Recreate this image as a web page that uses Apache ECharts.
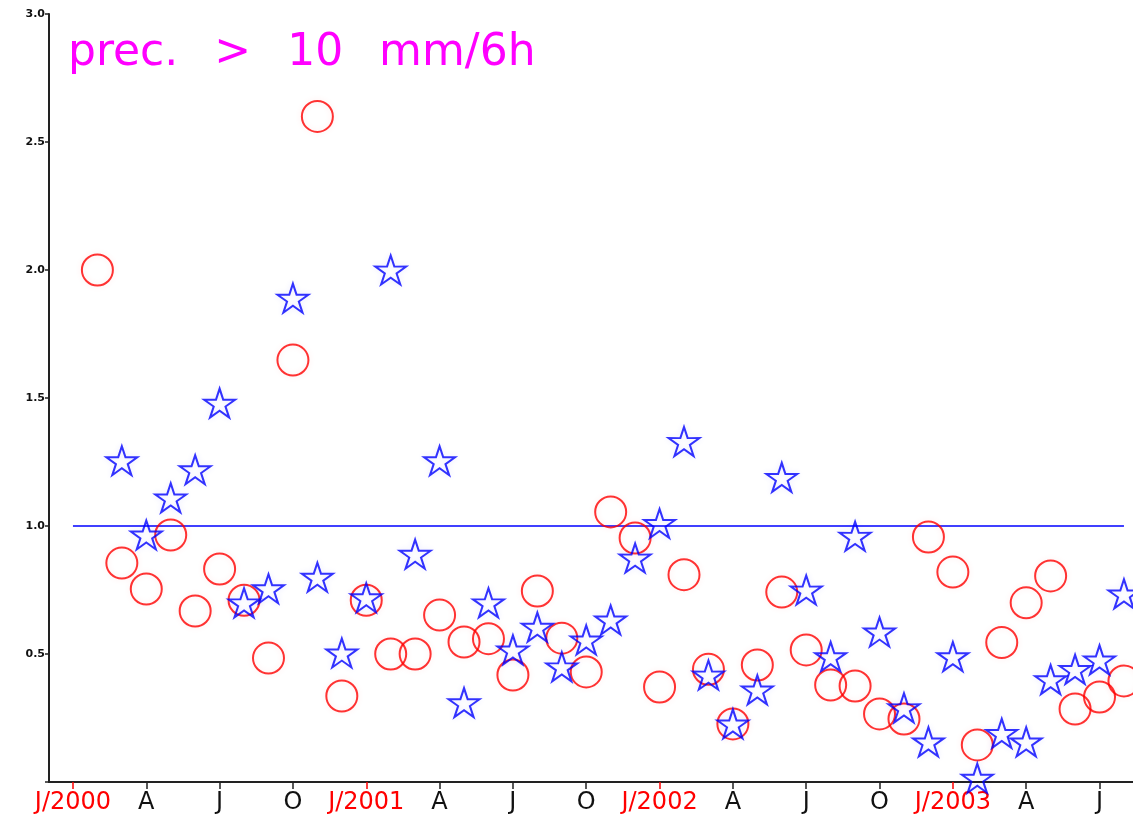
<!DOCTYPE html>
<html>
<head>
<meta charset="utf-8">
<script src="https://cdn.jsdelivr.net/npm/echarts@6/dist/echarts.min.js"></script>
<style>
html,body{margin:0;padding:0;background:#fff;}
#chart{width:1133px;height:822px;}
</style>
</head>
<body>
<div id="chart"></div>
<script>
// month index: 0 = Jan 2000
const titleText = 'prec. \u2002> \u200210 \u2002mm/6h';
const circleValues = [null, 2.0, 0.855, 0.754, 0.965, 0.668, 0.832, 0.71, 0.484, 1.648, 2.60,
  0.336, 0.71, 0.50, 0.50, 0.652, 0.547, 0.56, 0.418, 0.746, 0.562,
  0.43, 1.055, 0.953, 0.371, 0.81, 0.44, 0.227, 0.457, 0.742, 0.516,
  0.379, 0.375, 0.266, 0.246, 0.957, 0.82, 0.145, 0.545, 0.70, 0.805,
  0.285, 0.332, 0.395];
const starValues = [null, null, 1.255, 0.965, 1.11, 1.22, 1.48, 0.70, 0.755, 1.89, 0.80,
  0.504, 0.72, 2.0, 0.89, 1.255, 0.31, 0.70, 0.516, 0.605, 0.45,
  0.555, 0.633, 0.875, 1.01, 1.33, 0.418, 0.227, 0.36, 1.19, 0.75,
  0.49, 0.96, 0.586, 0.29, 0.157, 0.49, 0.015, 0.19, 0.157, 0.40,
  0.44, 0.477, 0.735];
const refLineX = [0, 43];
const refValue = 1.0;
const yearTicks = [0, 12, 24, 36];
const yearLabels = ['J/2000', 'J/2001', 'J/2002', 'J/2003'];
const monthTicks = [3, 6, 9, 15, 18, 21, 27, 30, 33, 39, 42];
const monthLabels = ['A', 'J', 'O', 'A', 'J', 'O', 'A', 'J', 'O', 'A', 'J'];

const starPath = 'path://M50 0 L61.17 34.63 L97.55 34.55 L68.07 55.87 L79.39 90.45 L50 69 L20.61 90.45 L31.93 55.87 L2.45 34.55 L38.83 34.63 Z';

const toPts = arr => arr.map((v, i) => v == null ? null : [i, v]).filter(p => p);

const xMin = -0.98, xMax = 43.37;

const chart = echarts.init(document.getElementById('chart'));
chart.setOption({
  animation: false,
  backgroundColor: '#fff',
  title: {
    text: titleText,
    left: 63, top: 27,
    textStyle: { color: '#ff00ff', fontSize: 44, fontWeight: 'normal', fontFamily: 'DejaVu Sans' }
  },
  grid: { left: 49, right: 0, top: 14, bottom: 40, containLabel: false },
  xAxis: [{
    type: 'value', min: xMin, max: xMax,
    axisLine: { show: true, onZero: false, lineStyle: { color: '#222', width: 2 } },
    splitLine: { show: false },
    axisTick: { show: true, customValues: monthTicks, length: 7, lineStyle: { color: '#222', width: 1.5 } },
    axisLabel: {
      customValues: monthTicks, margin: 9,
      color: '#111', fontSize: 24, fontFamily: 'DejaVu Sans',
      formatter: v => monthLabels[monthTicks.indexOf(v)]
    }
  }, {
    type: 'value', min: xMin, max: xMax, position: 'bottom',
    axisLine: { show: false, onZero: false },
    splitLine: { show: false },
    axisTick: { show: true, customValues: yearTicks, length: 7, lineStyle: { color: '#ff0000', width: 1.5 } },
    axisLabel: {
      customValues: yearTicks, margin: 9,
      color: '#ff0000', fontSize: 24, fontFamily: 'DejaVu Sans',
      formatter: v => yearLabels[yearTicks.indexOf(v)]
    }
  }],
  yAxis: {
    type: 'value', min: 0, max: 3, interval: 0.5, position: 'left',
    axisLine: { show: true, onZero: false, lineStyle: { color: '#222', width: 2 } },
    splitLine: { show: false },
    axisTick: { show: true, inside: false, length: 4, lineStyle: { color: '#222', width: 1.5 } },
    axisLabel: {
      margin: 4, color: '#111', fontSize: 11, fontWeight: 'bold', fontFamily: 'DejaVu Sans',
      formatter: v => v === 0 ? '' : v.toFixed(1)
    }
  },
  series: [{
    type: 'line',
    data: refLineX.map(x => [x, refValue]),
    symbol: 'none',
    lineStyle: { color: '#0000ff', width: 1.5 },
    z: 1
  }, {
    type: 'scatter',
    data: toPts(circleValues),
    symbol: 'circle', symbolSize: 31,
    clip: false,
    itemStyle: { color: 'rgba(0,0,0,0)', borderColor: '#ff0000', borderWidth: 2,
      shadowBlur: 6, shadowColor: 'rgba(255,0,0,0.12)' },
    z: 2
  }, {
    type: 'scatter',
    data: toPts(starValues),
    symbol: starPath, symbolSize: [31, 29],
    clip: false,
    itemStyle: { color: 'rgba(0,0,0,0)', borderColor: '#0000ff', borderWidth: 2,
      shadowBlur: 6, shadowColor: 'rgba(0,0,255,0.12)' },
    z: 3
  }]
});
</script>
</body>
</html>
